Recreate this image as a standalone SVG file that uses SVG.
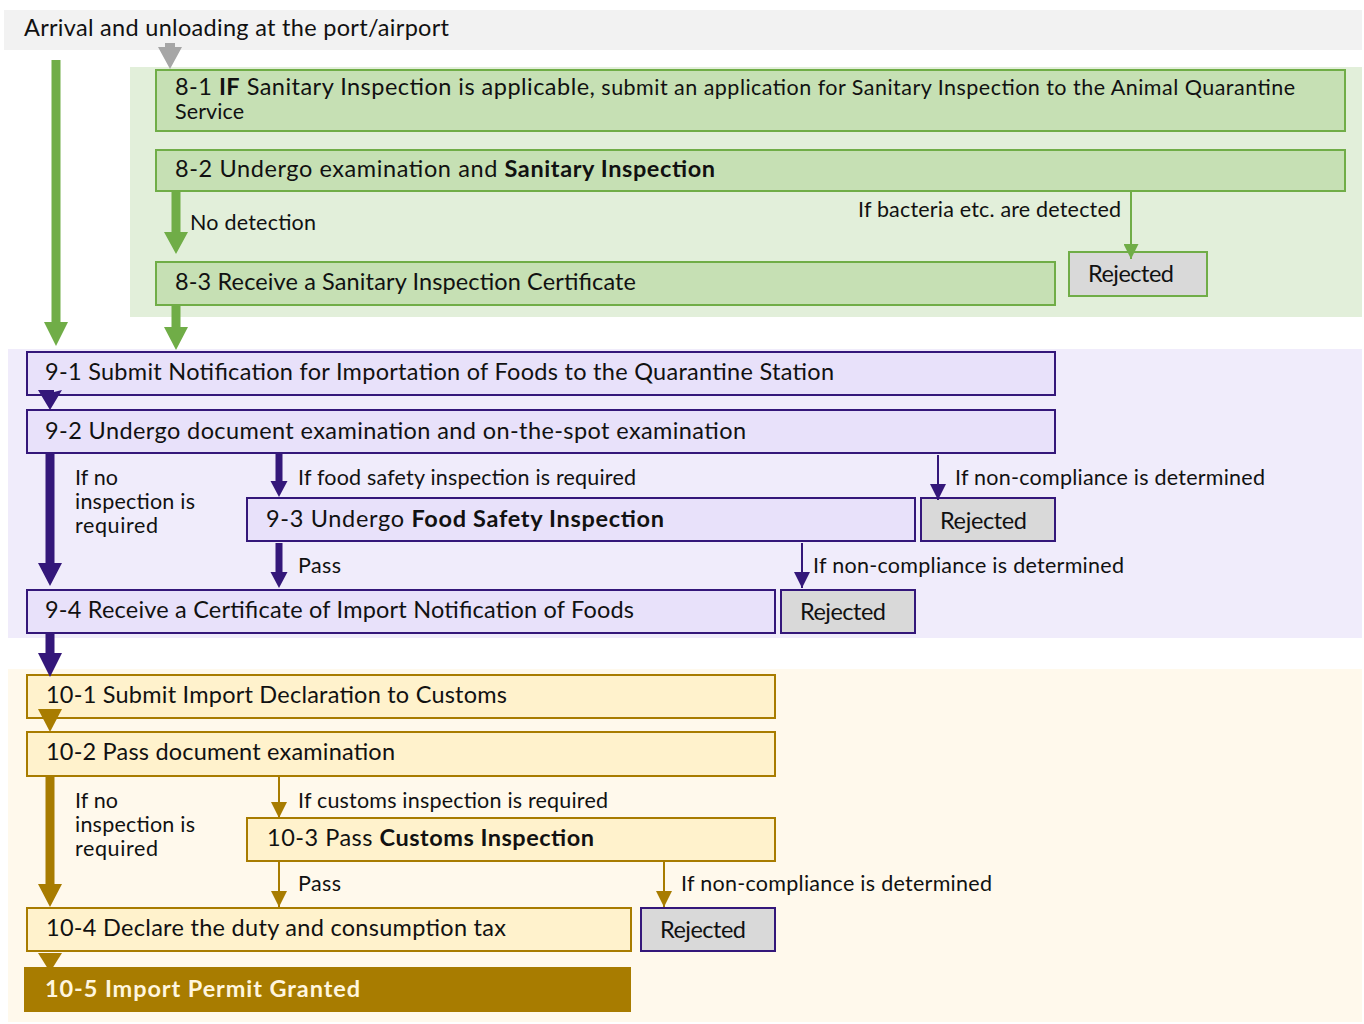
<svg xmlns="http://www.w3.org/2000/svg" width="1364" height="1024" viewBox="0 0 1364 1024">
<defs>
<style>
text{font-family:Lato,"Open Sans","Liberation Sans",sans-serif;fill:#111;}
.t{font-size:23.5px;}
.s{font-size:21.5px;}
.b{font-weight:bold;}
.gbox{fill:#c6e0b4;stroke:#70ad47;stroke-width:2;}
.pbox{fill:#e8e1fa;stroke:#34177a;stroke-width:2;}
.ybox{fill:#fff2cc;stroke:#a87c00;stroke-width:2;}
.rej{fill:#d9d9d9;stroke-width:2;}
.thin{fill:none;stroke-width:2;}
</style>
<marker id="ag" viewBox="0 0 16 16" refX="16" refY="8" markerWidth="15" markerHeight="15" markerUnits="userSpaceOnUse" orient="auto"><path d="M0,0 L16,8 L0,16 Z" fill="#70ad47"/></marker>
<marker id="ap" viewBox="0 0 16 16" refX="16" refY="8" markerWidth="16" markerHeight="16" markerUnits="userSpaceOnUse" orient="auto"><path d="M0,0 L16,8 L0,16 Z" fill="#34177a"/></marker>
<marker id="ay" viewBox="0 0 16 16" refX="16" refY="8" markerWidth="16" markerHeight="16" markerUnits="userSpaceOnUse" orient="auto"><path d="M0,0 L16,8 L0,16 Z" fill="#a87c00"/></marker>
</defs>
<rect width="1364" height="1024" fill="#ffffff"/>
<g id="panels">
<rect x="4" y="10" width="1358" height="40" fill="#f2f2f2"/>
<rect x="130" y="67" width="1232" height="250" fill="#e2efda"/>
<rect x="8" y="349" width="1354" height="289" fill="#f0ecfb"/>
<rect x="8" y="669" width="1354" height="353" fill="#fff9ec"/>
</g>
<g id="start"><text class="t" x="24" y="36" textLength="425">Arrival and unloading at the port/airport</text></g>
<g id="n8-1">
<rect class="gbox" x="156" y="70" width="1189" height="61"/>
<text class="t" x="175" y="95" textLength="1120">8-1 <tspan class="b">IF</tspan> Sanitary Inspection is applicable,<tspan class="s"> submit an application for Sanitary Inspection to the Animal Quarantine</tspan></text>
<text class="s" x="175" y="119" textLength="69">Service</text>
</g>
<g id="n8-2">
<rect class="gbox" x="156" y="150" width="1189" height="41"/>
<text class="t" x="175" y="177" textLength="540">8-2 Undergo examination and <tspan class="b">Sanitary Inspection</tspan></text>
</g>
<g id="n8-3">
<rect class="gbox" x="156" y="262" width="899" height="43"/>
<text class="t" x="175" y="290" textLength="461">8-3 Receive a Sanitary Inspection Certificate</text>
</g>
<g id="r8">
<rect class="rej" stroke="#70ad47" x="1069" y="252" width="138" height="44"/>
<text class="t" x="1088" y="282" textLength="86">Rejected</text>
</g>
<g id="n9-1">
<rect class="pbox" x="27" y="352" width="1028" height="43"/>
<text class="t" x="45" y="380" textLength="789">9-1 Submit Notification for Importation of Foods to the Quarantine Station</text>
</g>
<g id="n9-2">
<rect class="pbox" x="27" y="410" width="1028" height="43"/>
<text class="t" x="45" y="439" textLength="701">9-2 Undergo document examination and on-the-spot examination</text>
</g>
<g id="n9-3">
<rect class="pbox" x="247" y="498" width="668" height="43"/>
<text class="t" x="266" y="527" textLength="398">9-3 Undergo <tspan class="b">Food Safety Inspection</tspan></text>
</g>
<g id="r9a">
<rect class="rej" stroke="#34177a" x="921" y="498" width="134" height="43"/>
<text class="t" x="940" y="529" textLength="87">Rejected</text>
</g>
<g id="n9-4">
<rect class="pbox" x="27" y="590" width="748" height="43"/>
<text class="t" x="45" y="618" textLength="589">9-4 Receive a Certificate of Import Notification of Foods</text>
</g>
<g id="r9b">
<rect class="rej" stroke="#34177a" x="781" y="590" width="134" height="43"/>
<text class="t" x="800" y="620" textLength="86">Rejected</text>
</g>
<g id="n10-1">
<rect class="ybox" x="27" y="675" width="748" height="43"/>
<text class="t" x="46" y="703" textLength="461">10-1  Submit Import Declaration to Customs</text>
</g>
<g id="n10-2">
<rect class="ybox" x="27" y="732" width="748" height="44"/>
<text class="t" x="46" y="760" textLength="349">10-2  Pass document examination</text>
</g>
<g id="n10-3">
<rect class="ybox" x="247" y="818" width="528" height="43"/>
<text class="t" x="267" y="846" textLength="327">10-3  Pass <tspan class="b">Customs Inspection</tspan></text>
</g>
<g id="n10-4">
<rect class="ybox" x="27" y="908" width="604" height="43"/>
<text class="t" x="46" y="936" textLength="460">10-4  Declare the duty and consumption tax</text>
</g>
<g id="r10">
<rect class="rej" stroke="#34177a" x="641" y="908" width="134" height="43"/>
<text class="t" x="660" y="938" textLength="86">Rejected</text>
</g>
<g id="connectors">
<path fill="#a6a6a6" d="M165,43 L175,43 L175,47 L182,47 L170,69 L158,47 L165,47 Z"/>
<path fill="#70ad47" d="M51.5,60 L60.5,60 L60.5,322 L68,322 L56,346 L44,322 L51.5,322 Z"/>
<path fill="#70ad47" d="M171.5,191 L180.5,191 L180.5,232 L188,232 L176,254 L164,232 L171.5,232 Z"/>
<path fill="#70ad47" d="M171.5,306 L180.5,306 L180.5,327 L188,327 L176,350 L164,327 L171.5,327 Z"/>
<path fill="#34177a" d="M46,390 L54,390 L54,392 L62,390 L50,410 L38,390 Z"/>
<path fill="#34177a" d="M45.5,453 L54.5,453 L54.5,563 L62,563 L50,586 L38,563 L45.5,563 Z"/>
<path fill="#34177a" d="M275.5,453 L282.5,453 L282.5,481 L287.5,481 L279,497 L270.5,481 L275.5,481 Z"/>
<path fill="#34177a" d="M275.5,543 L282.5,543 L282.5,572 L287.5,572 L279,588 L270.5,572 L275.5,572 Z"/>
<path fill="#34177a" d="M45.5,633 L54.5,633 L54.5,653 L62,653 L50,677 L38,653 L45.5,653 Z"/>
<path fill="#a87c00" d="M38,709 L62,709 L50,732 Z"/>
<path fill="#a87c00" d="M45.5,776 L54.5,776 L54.5,884 L62,884 L50,907 L38,884 L45.5,884 Z"/>
<path fill="#a87c00" d="M38,953 L62,953 L50,972 Z"/>
<line class="thin" stroke="#70ad47" x1="1131" y1="192" x2="1131" y2="259" marker-end="url(#ag)"/>
<line class="thin" stroke="#34177a" x1="938" y1="455" x2="938" y2="500" marker-end="url(#ap)"/>
<line class="thin" stroke="#34177a" x1="802" y1="543" x2="802" y2="588" marker-end="url(#ap)"/>
<line class="thin" stroke="#a87c00" x1="279" y1="777" x2="279" y2="818" marker-end="url(#ay)"/>
<line class="thin" stroke="#a87c00" x1="279" y1="862" x2="279" y2="907" marker-end="url(#ay)"/>
<line class="thin" stroke="#a87c00" x1="664" y1="862" x2="664" y2="907" marker-end="url(#ay)"/>
</g>
<g id="n10-5">
<rect x="24" y="967" width="607" height="45" fill="#a87c00"/>
<text class="t b" x="45" y="997" textLength="315" style="fill:#fff6df">10-5 Import Permit Granted</text>
</g>
<g id="labels">
<text class="s" x="190" y="230" textLength="126">No detection</text>
<text class="s" x="858" y="217" textLength="263">If bacteria etc. are detected</text>
<text class="s" x="75" y="485" textLength="43">If no</text>
<text class="s" x="75" y="509" textLength="120">inspection is</text>
<text class="s" x="75" y="533" textLength="83">required</text>
<text class="s" x="298" y="485" textLength="338">If food safety inspection is required</text>
<text class="s" x="955" y="485" textLength="310">If non-compliance is determined</text>
<text class="s" x="298" y="573" textLength="43">Pass</text>
<text class="s" x="813" y="573" textLength="311">If non-compliance is determined</text>
<text class="s" x="75" y="808" textLength="43">If no</text>
<text class="s" x="75" y="832" textLength="120">inspection is</text>
<text class="s" x="75" y="856" textLength="83">required</text>
<text class="s" x="298" y="808" textLength="310">If customs inspection is required</text>
<text class="s" x="298" y="891" textLength="43">Pass</text>
<text class="s" x="681" y="891" textLength="311">If non-compliance is determined</text>
</g>
</svg>
